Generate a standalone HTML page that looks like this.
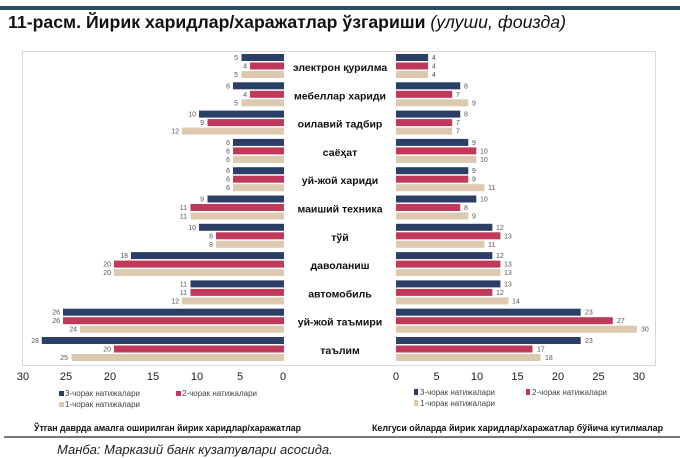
<!DOCTYPE html>
<html><head><meta charset="utf-8"><style>
html,body{margin:0;padding:0;background:#fff;}
svg{display:block;font-family:"Liberation Sans",Arial,sans-serif;}
.v{font-size:7px;fill:#555;}
.c{font-size:10.5px;font-weight:bold;fill:#111;text-anchor:middle;}
.t{font-size:11px;fill:#222;text-anchor:middle;}
.lg{font-size:8px;fill:#444;}
.n{fill:#2b3f66}.r{fill:#c0395a}.b{fill:#dcc9b0}
</style></head><body>
<svg width="680" height="458" viewBox="0 0 680 458">
<rect x="0" y="6" width="680" height="4" fill="#2e4a6b"/>
<text x="8" y="28" style="font-size:17.5px;font-weight:bold;fill:#111" textLength="558" lengthAdjust="spacingAndGlyphs">11-расм. Йирик харидлар/харажатлар ўзгариши <tspan style="font-weight:normal;font-style:italic">(улуши, фоизда)</tspan></text>
<rect x="22.5" y="51.5" width="633" height="314" fill="none" stroke="#d8d8d8"/>
<rect x="285" y="52" width="110" height="313" fill="#fff"/>

<g transform="translate(284,0) scale(-8.5,1)">
<g transform="translate(0,67)"><rect y="-13" width="5" height="7" class="n"/><rect y="-4.5" width="4" height="7" class="r"/><rect y="4" width="5" height="7" class="b"/></g>
<g transform="translate(0,95.3)"><rect y="-13" width="6" height="7" class="n"/><rect y="-4.5" width="4" height="7" class="r"/><rect y="4" width="5" height="7" class="b"/></g>
<g transform="translate(0,123.6)"><rect y="-13" width="10" height="7" class="n"/><rect y="-4.5" width="9" height="7" class="r"/><rect y="4" width="12" height="7" class="b"/></g>
<g transform="translate(0,151.9)"><rect y="-13" width="6" height="7" class="n"/><rect y="-4.5" width="6" height="7" class="r"/><rect y="4" width="6" height="7" class="b"/></g>
<g transform="translate(0,180.2)"><rect y="-13" width="6" height="7" class="n"/><rect y="-4.5" width="6" height="7" class="r"/><rect y="4" width="6" height="7" class="b"/></g>
<g transform="translate(0,208.5)"><rect y="-13" width="9" height="7" class="n"/><rect y="-4.5" width="11" height="7" class="r"/><rect y="4" width="11" height="7" class="b"/></g>
<g transform="translate(0,236.8)"><rect y="-13" width="10" height="7" class="n"/><rect y="-4.5" width="8" height="7" class="r"/><rect y="4" width="8" height="7" class="b"/></g>
<g transform="translate(0,265.1)"><rect y="-13" width="18" height="7" class="n"/><rect y="-4.5" width="20" height="7" class="r"/><rect y="4" width="20" height="7" class="b"/></g>
<g transform="translate(0,293.4)"><rect y="-13" width="11" height="7" class="n"/><rect y="-4.5" width="11" height="7" class="r"/><rect y="4" width="12" height="7" class="b"/></g>
<g transform="translate(0,321.7)"><rect y="-13" width="26" height="7" class="n"/><rect y="-4.5" width="26" height="7" class="r"/><rect y="4" width="24" height="7" class="b"/></g>
<g transform="translate(0,350)"><rect y="-13" width="28.5" height="7" class="n"/><rect y="-4.5" width="20" height="7" class="r"/><rect y="4" width="25" height="7" class="b"/></g>
</g>
<g transform="translate(396,0) scale(8.03,1)">
<g transform="translate(0,67)"><rect y="-13" width="4" height="7" class="n"/><rect y="-4.5" width="4" height="7" class="r"/><rect y="4" width="4" height="7" class="b"/></g>
<g transform="translate(0,95.3)"><rect y="-13" width="8" height="7" class="n"/><rect y="-4.5" width="7" height="7" class="r"/><rect y="4" width="9" height="7" class="b"/></g>
<g transform="translate(0,123.6)"><rect y="-13" width="8" height="7" class="n"/><rect y="-4.5" width="7" height="7" class="r"/><rect y="4" width="7" height="7" class="b"/></g>
<g transform="translate(0,151.9)"><rect y="-13" width="9" height="7" class="n"/><rect y="-4.5" width="10" height="7" class="r"/><rect y="4" width="10" height="7" class="b"/></g>
<g transform="translate(0,180.2)"><rect y="-13" width="9" height="7" class="n"/><rect y="-4.5" width="9" height="7" class="r"/><rect y="4" width="11" height="7" class="b"/></g>
<g transform="translate(0,208.5)"><rect y="-13" width="10" height="7" class="n"/><rect y="-4.5" width="8" height="7" class="r"/><rect y="4" width="9" height="7" class="b"/></g>
<g transform="translate(0,236.8)"><rect y="-13" width="12" height="7" class="n"/><rect y="-4.5" width="13" height="7" class="r"/><rect y="4" width="11" height="7" class="b"/></g>
<g transform="translate(0,265.1)"><rect y="-13" width="12" height="7" class="n"/><rect y="-4.5" width="13" height="7" class="r"/><rect y="4" width="13" height="7" class="b"/></g>
<g transform="translate(0,293.4)"><rect y="-13" width="13" height="7" class="n"/><rect y="-4.5" width="12" height="7" class="r"/><rect y="4" width="14" height="7" class="b"/></g>
<g transform="translate(0,321.7)"><rect y="-13" width="23" height="7" class="n"/><rect y="-4.5" width="27" height="7" class="r"/><rect y="4" width="30" height="7" class="b"/></g>
<g transform="translate(0,350)"><rect y="-13" width="23" height="7" class="n"/><rect y="-4.5" width="17" height="7" class="r"/><rect y="4" width="18" height="7" class="b"/></g>
</g>

<g class="v" text-anchor="end">
<g transform="translate(0,67)"><text x="238" y="-7">5</text><text x="247" y="1.5">4</text><text x="238" y="10">5</text></g>
<g transform="translate(0,95.3)"><text x="230" y="-7">6</text><text x="247" y="1.5">4</text><text x="238" y="10">5</text></g>
<g transform="translate(0,123.6)"><text x="196" y="-7">10</text><text x="204" y="1.5">9</text><text x="179" y="10">12</text></g>
<g transform="translate(0,151.9)"><text x="230" y="-7">6</text><text x="230" y="1.5">6</text><text x="230" y="10">6</text></g>
<g transform="translate(0,180.2)"><text x="230" y="-7">6</text><text x="230" y="1.5">6</text><text x="230" y="10">6</text></g>
<g transform="translate(0,208.5)"><text x="204" y="-7">9</text><text x="187" y="1.5">11</text><text x="187" y="10">11</text></g>
<g transform="translate(0,236.8)"><text x="196" y="-7">10</text><text x="213" y="1.5">8</text><text x="213" y="10">8</text></g>
<g transform="translate(0,265.1)"><text x="128" y="-7">18</text><text x="111" y="1.5">20</text><text x="111" y="10">20</text></g>
<g transform="translate(0,293.4)"><text x="187" y="-7">11</text><text x="187" y="1.5">11</text><text x="179" y="10">12</text></g>
<g transform="translate(0,321.7)"><text x="60" y="-7">26</text><text x="60" y="1.5">26</text><text x="77" y="10">24</text></g>
<g transform="translate(0,350)"><text x="39" y="-7">28</text><text x="111" y="1.5">20</text><text x="68" y="10">25</text></g>
</g>
<g class="v">
<g transform="translate(0,67)"><text x="432" y="-7">4</text><text x="432" y="1.5">4</text><text x="432" y="10">4</text></g>
<g transform="translate(0,95.3)"><text x="464" y="-7">8</text><text x="456" y="1.5">7</text><text x="472" y="10">9</text></g>
<g transform="translate(0,123.6)"><text x="464" y="-7">8</text><text x="456" y="1.5">7</text><text x="456" y="10">7</text></g>
<g transform="translate(0,151.9)"><text x="472" y="-7">9</text><text x="480" y="1.5">10</text><text x="480" y="10">10</text></g>
<g transform="translate(0,180.2)"><text x="472" y="-7">9</text><text x="472" y="1.5">9</text><text x="488" y="10">11</text></g>
<g transform="translate(0,208.5)"><text x="480" y="-7">10</text><text x="464" y="1.5">8</text><text x="472" y="10">9</text></g>
<g transform="translate(0,236.8)"><text x="496" y="-7">12</text><text x="504" y="1.5">13</text><text x="488" y="10">11</text></g>
<g transform="translate(0,265.1)"><text x="496" y="-7">12</text><text x="504" y="1.5">13</text><text x="504" y="10">13</text></g>
<g transform="translate(0,293.4)"><text x="504" y="-7">13</text><text x="496" y="1.5">12</text><text x="512" y="10">14</text></g>
<g transform="translate(0,321.7)"><text x="585" y="-7">23</text><text x="617" y="1.5">27</text><text x="641" y="10">30</text></g>
<g transform="translate(0,350)"><text x="585" y="-7">23</text><text x="537" y="1.5">17</text><text x="545" y="10">18</text></g>
</g>

<g class="c">
<text x="340" y="71">электрон қурилма</text>
<text x="340" y="99.3">мебеллар хариди</text>
<text x="340" y="127.6">оилавий тадбир</text>
<text x="340" y="155.9">саёҳат</text>
<text x="340" y="184.2">уй-жой хариди</text>
<text x="340" y="212.5">маиший техника</text>
<text x="340" y="240.8">тўй</text>
<text x="340" y="269.1">даволаниш</text>
<text x="340" y="297.4">автомобиль</text>
<text x="340" y="325.7">уй-жой таъмири</text>
<text x="340" y="354">таълим</text>
</g>

<g class="t">
<text x="23" y="380">30</text><text x="66" y="380">25</text><text x="110" y="380">20</text><text x="153" y="380">15</text><text x="197" y="380">10</text><text x="240" y="380">5</text><text x="283" y="380">0</text>
<text x="396" y="380">0</text><text x="436.5" y="380">5</text><text x="477" y="380">10</text><text x="517.5" y="380">15</text><text x="558" y="380">20</text><text x="598.5" y="380">25</text><text x="639" y="380">30</text>
</g>

<g class="lg">
<rect x="59" y="391" width="5" height="5" class="n"/><text x="65" y="396">3-чорак  натижалари</text>
<rect x="176" y="391" width="5" height="5" class="r"/><text x="182" y="396">2-чорак  натижалари</text>
<rect x="59" y="402" width="5" height="5" class="b"/><text x="65" y="407">1-чорак  натижалари</text>
<rect x="414" y="389" width="4" height="6" class="n"/><text x="420" y="395">3-чорак  натижалари</text>
<rect x="526" y="389" width="4" height="6" class="r"/><text x="532" y="395">2-чорак  натижалари</text>
<rect x="414" y="400" width="4" height="6" class="b"/><text x="420" y="406">1-чорак  натижалари</text>
</g>

<text x="34" y="431" style="font-size:9px;font-weight:bold;fill:#111" textLength="267" lengthAdjust="spacingAndGlyphs">Ўтган даврда амалга оширилган йирик харидлар/харажатлар</text>
<text x="372" y="431" style="font-size:9px;font-weight:bold;fill:#111" textLength="291" lengthAdjust="spacingAndGlyphs">Келгуси ойларда йирик харидлар/харажатлар бўйича кутилмалар</text>
<rect x="4" y="436" width="676" height="2" fill="#777"/>
<text x="57" y="454" style="font-size:13px;font-style:italic;fill:#222">Манба: Марказий банк кузатувлари асосида.</text>
</svg>
</body></html>
